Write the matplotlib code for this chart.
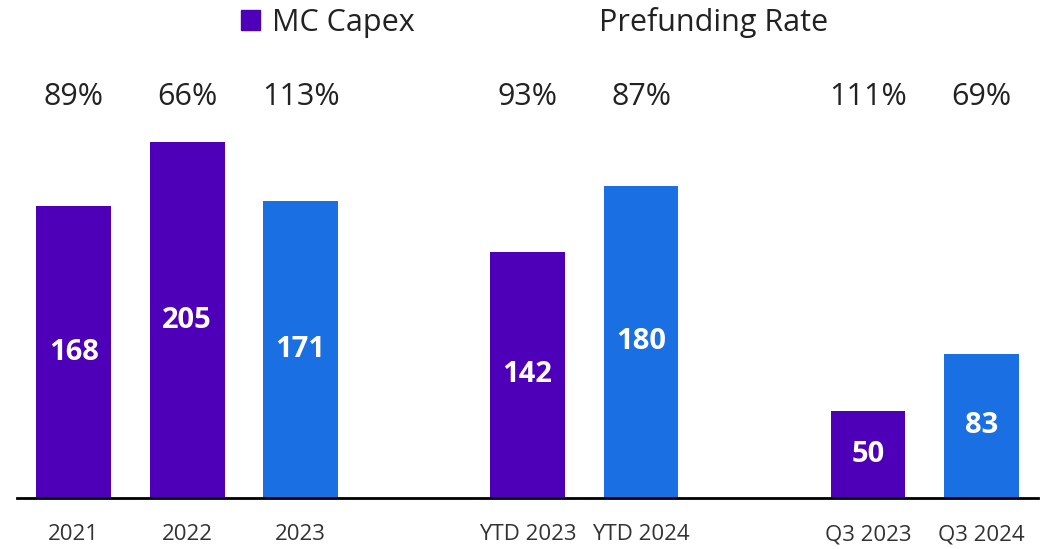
import matplotlib.pyplot as plt
from matplotlib.patches import Patch
from matplotlib.lines import Line2D
import matplotlib.transforms as mtransforms

plt.rcParams['font.family'] = ['Open Sans', 'DejaVu Sans']

# Data
categories = ['2021', '2022', '2023', 'YTD 2023', 'YTD 2024', 'Q3 2023', 'Q3 2024']
positions = [0, 1, 2, 4, 5, 7, 8]
capex = [168, 205, 171, 142, 180, 50, 83]
prefunding = ['89%', '66%', '113%', '93%', '87%', '111%', '69%']
is_current = [False, False, True, False, True, False, True]

purple = '#4D00B8'
blue = '#1A6FE3'
colors = [blue if c else purple for c in is_current]

fig = plt.figure(figsize=(10.42, 5.49), dpi=100)
ax = fig.add_axes([0.0163, 0.0929, 0.9800, 0.727])

bars = ax.bar(positions, capex, width=0.66, color=colors)

# white value labels centred in each bar
for b, v in zip(bars, capex):
    ax.text(b.get_x() + b.get_width() / 2, v / 2, str(v), ha='center', va='center',
            color='white', fontsize=21, fontweight='bold')

# prefunding rate row above the bars
trans = mtransforms.blended_transform_factory(ax.transData, fig.transFigure)
for x, p in zip(positions, prefunding):
    ax.text(x, 1 - 97 / 549, p, transform=trans, ha='center', va='center',
            fontsize=22, color='#222222')

ax.set_xlim(-0.5, 8.5)
ax.set_ylim(0, 230)
ax.set_xticks(positions)
ax.set_xticklabels(categories, fontsize=16, color='#333333')
ax.tick_params(axis='x', length=0, pad=19)
ax.set_yticks([])
for s in ['top', 'right', 'left']:
    ax.spines[s].set_visible(False)
ax.spines['bottom'].set_linewidth(2)
ax.spines['bottom'].set_color('black')

handles = [Patch(color=purple, label='MC Capex'),
           Line2D([], [], linestyle='none', label='Prefunding Rate')]
fig.legend(handles=handles, loc='center', bbox_to_anchor=(0.513, 1 - 22 / 549),
           ncol=2, frameon=False, fontsize=22, handlelength=0.62, handleheight=0.62,
           handletextpad=0.4, columnspacing=5.0, labelcolor='#222222')

fig.savefig('out.png', dpi=100)
